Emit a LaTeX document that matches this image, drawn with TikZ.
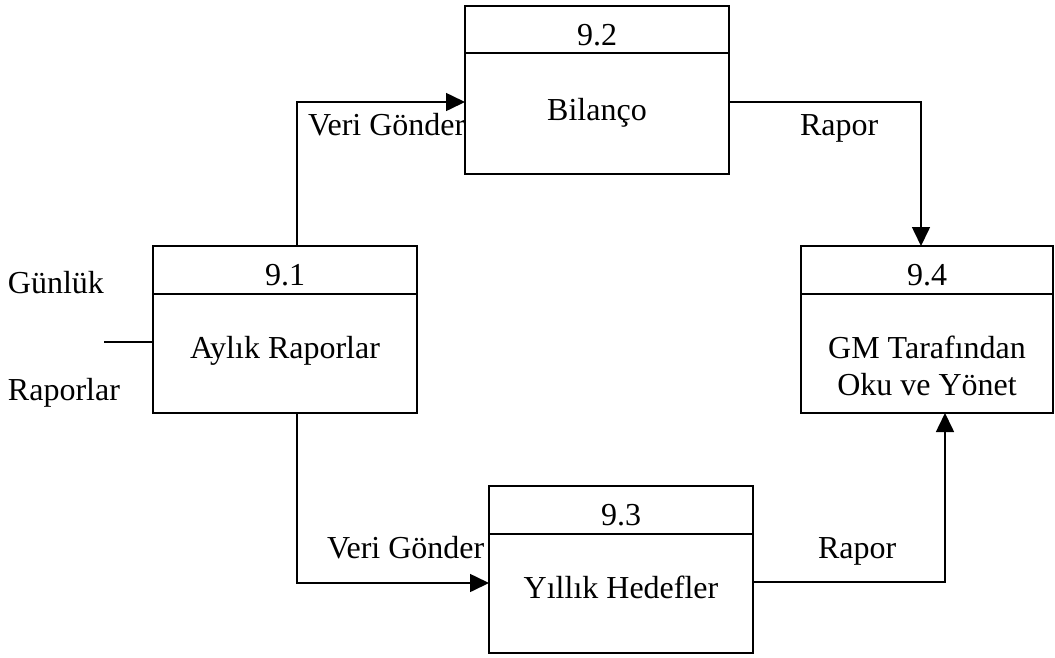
\documentclass[tikz,border=0pt]{standalone}
\usepackage{fontspec}
\setmainfont{Liberation Serif}
\usetikzlibrary{arrows.meta}
\begin{document}
\begin{tikzpicture}[x=1pt,y=-1pt,
  every node/.style={font=\fontsize{32}{37}\selectfont, inner sep=0pt, outer sep=0pt},
  proc/.style={draw, line width=1.6pt, fill=white, minimum width=264pt, minimum height=167pt},
  txt/.style={anchor=base},
  lbl/.style={anchor=base west},
  flow/.style={line width=1.6pt, -{Triangle[length=19pt,width=18pt]}},
  plain/.style={line width=1.6pt}]
\useasboundingbox (0,0) rectangle (1055,657);

% flow labels (boxes are drawn on top of them)
\node[lbl] (vg1) at (308,135) {Veri Gönder};
\node[lbl] (vg2) at (327,558) {Veri Gönder};
\node[lbl] (rp1) at (800,135) {Rapor};
\node[lbl] (rp2) at (818,558) {Rapor};
\node[lbl] (gun) at (8,293) {Günlük};
\node[lbl] (rap) at (8,400) {Raporlar};

% process boxes
\node[proc] (b91) at (285,329.5) {};
\node[proc, minimum height=168pt] (b92) at (597,90) {};
\node[proc] (b93) at (621,569.5) {};
\node[proc, minimum width=252pt] (b94) at (927,329.5) {};

% header separators
\draw[plain] ([yshift=-48pt]b91.north west) -- ([yshift=-48pt]b91.north east);
\draw[plain] ([yshift=-47pt]b92.north west) -- ([yshift=-47pt]b92.north east);
\draw[plain] ([yshift=-48pt]b93.north west) -- ([yshift=-48pt]b93.north east);
\draw[plain] ([yshift=-48pt]b94.north west) -- ([yshift=-48pt]b94.north east);

% box texts
\node[txt] (n91) at (285,285) {9.1};
\node[txt] (a91) at (285,358) {Aylık Raporlar};
\node[txt] (n92) at (597,45) {9.2};
\node[txt] (a92) at (597,120) {Bilanço};
\node[txt] (n93) at (621,525) {9.3};
\node[txt] (a93) at (621,598) {Yıllık Hedefler};
\node[txt] (n94) at (927,285) {9.4};
\node[txt] (a94) at (927,358) {GM Tarafından};
\node[txt] (b94t) at (927,395) {Oku ve Yönet};

% routing points
\coordinate (c0) at (104,342);
\coordinate (c1) at (297,102);
\coordinate (c2) at (921,102);
\coordinate (c3) at (297,583);
\coordinate (c4) at (945,582);

% connectors
\draw[plain] (c0) -- (b91.west |- c0);
\draw[flow] (b91.north -| c1) |- (b92.west |- c1);
\draw[flow] (b92.east |- c2) -| (b94.north -| c2);
\draw[flow] (b91.south -| c3) |- (b93.west |- c3);
\draw[flow] (b93.east |- c4) -| (b94.south -| c4);
\end{tikzpicture}
\end{document}
